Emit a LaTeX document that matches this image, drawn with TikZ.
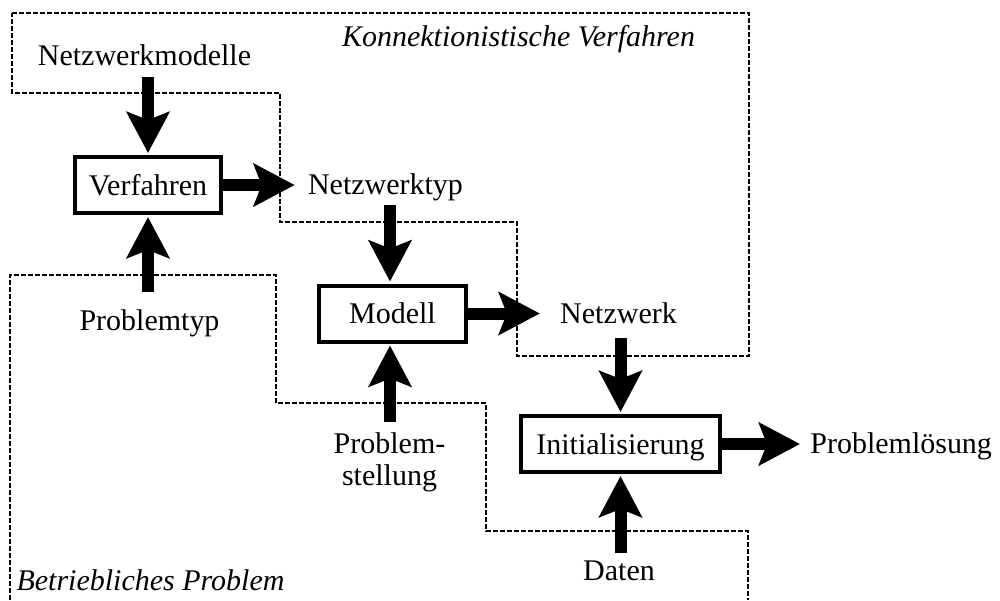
\documentclass[tikz,border=0pt]{standalone}
\usepackage{fontspec}
\setmainfont{Liberation Serif}
\usetikzlibrary{arrows.meta}
\begin{document}
\begin{tikzpicture}[x=0.02cm,y=-0.02cm,
  font=\fontsize{17.07}{18.2}\selectfont,
  box/.style={draw,line width=0.08cm,inner sep=0,minimum height=1.12cm,text height=0.4cm,text depth=0cm},
  lbl/.style={inner sep=0,anchor=base},
  region/.style={line width=0.026cm,dash pattern=on 0.1cm off 0.04cm},
  bigarrow/.style={line width=0.24cm,-{Stealth[length=0.82cm,width=0.85cm,inset=0.16cm]}}]
\useasboundingbox (0,0) rectangle (1000,600);
% dashed regions
\draw[region] (12,13) -- (749,13) -- (749,356) -- (517,356) -- (517,222) -- (280,222) -- (280,93) -- (12,93) -- cycle;
\draw[region] (10,600) -- (10,275) -- (276,275) -- (276,403) -- (486,403) -- (486,531) -- (748,531) -- (748,600);
\node[lbl,font=\fontsize{17.07}{18.2}\selectfont\itshape] (kv) at (518.5,46) {Konnektionistische Verfahren};
\node[lbl,font=\fontsize{17.07}{18.2}\selectfont\itshape] (bp) at (150.5,590) {Betriebliches Problem};
% boxes
\node[box,minimum width=2.92cm] (vf) at (148,185) {Verfahren};
\node[box,minimum width=2.94cm] (mo) at (392.5,313.5) {Modell};
\node[box,minimum width=3.98cm] (in) at (620.5,444) {Initialisierung};
% labels
\node[lbl] (nm) at (144.5,65) {Netzwerkmodelle};
\node[lbl] (nt) at (385.5,194) {Netzwerktyp};
\node[lbl] (nw) at (618.5,323) {Netzwerk};
\node[lbl] (pt) at (149.5,330) {Problemtyp};
\node[inner sep=0,anchor=north,align=center] (ps) at (389.5,432.5) {Problem-\\stellung};
\node[lbl] (da) at (619,580) {Daten};
\node[lbl,anchor=base west] (pl) at (810,453) {Problemlösung};
% arrows
\draw[bigarrow,shorten <=0.22cm,shorten >=0.04cm] (nm.south -| vf.north) -- (vf.north);
\draw[bigarrow,shorten <=0.33cm,shorten >=0.04cm] (pt.north -| vf.south) -- (vf.south);
\draw[bigarrow,shorten >=0.26cm] (vf.east) -- (vf.east -| nt.west);
\draw[bigarrow,shorten <=0.09cm,shorten >=0.04cm] (nt.south -| 390,0) -- (390,0 |- mo.north);
\draw[bigarrow,shorten <=0.21cm,shorten >=0.04cm] (ps.north -| 390,0) -- (390,0 |- mo.south);
\draw[bigarrow,shorten >=0.4cm] (mo.east) -- (mo.east -| nw.west);
\draw[bigarrow,shorten <=0.28cm,shorten >=0.04cm] (nw.south -| in.north) -- (in.north);
\draw[bigarrow,shorten <=0.14cm,shorten >=0.04cm] (da.north -| in.south) -- (in.south);
\draw[bigarrow,shorten >=0.2cm] (in.east) -- (in.east -| pl.west);
\end{tikzpicture}
\end{document}
